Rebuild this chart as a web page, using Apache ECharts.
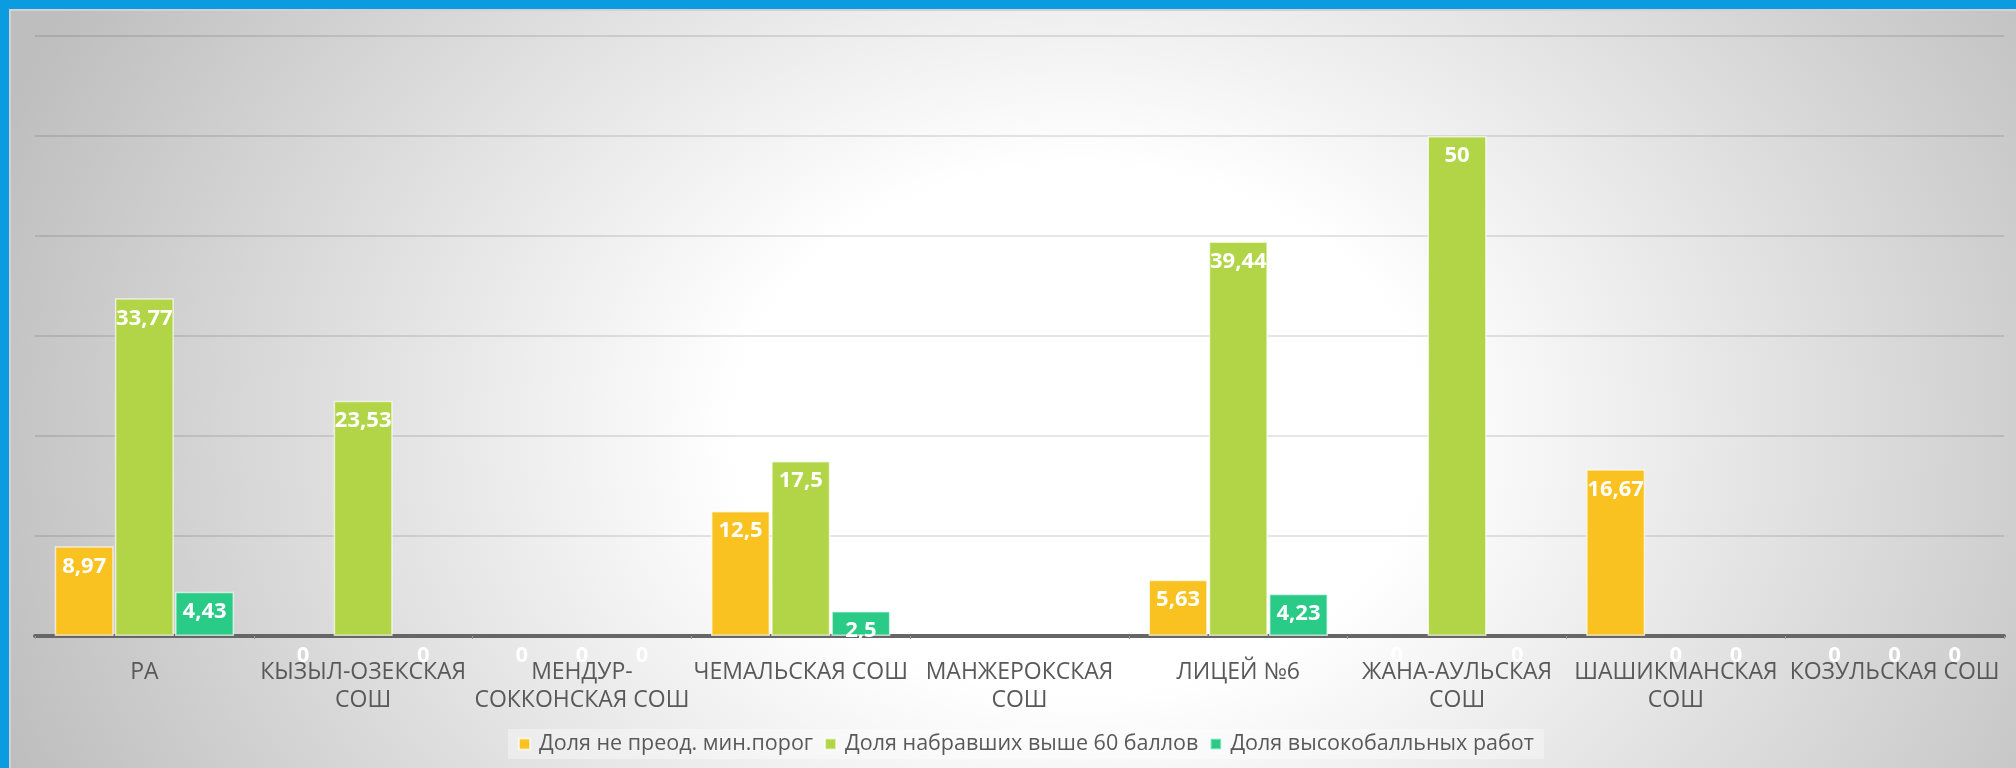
<!DOCTYPE html>
<html>
<head>
<meta charset="utf-8">
<script src="https://cdn.jsdelivr.net/npm/echarts@6/dist/echarts.min.js"></script>
<style>
  html, body { margin: 0; padding: 0; }
  #chart {
    width: 2016px; height: 768px;
    background: radial-gradient(ellipse 1150px 880px at 1080px 430px, #ffffff 0%, #ffffff 30%, #bebebe 100%);
  }
</style>
</head>
<body>
<div id="chart"></div>
<script>
const categories = [
  'РА',
  'КЫЗЫЛ-ОЗЕКСКАЯ\nСОШ',
  'МЕНДУР-\nСОККОНСКАЯ СОШ',
  'ЧЕМАЛЬСКАЯ СОШ',
  'МАНЖЕРОКСКАЯ\nСОШ',
  'ЛИЦЕЙ №6',
  'ЖАНА-АУЛЬСКАЯ\nСОШ',
  'ШАШИКМАНСКАЯ\nСОШ',
  'КОЗУЛЬСКАЯ СОШ'
];
const seriesNames = [
  'Доля не преод. мин.порог',
  'Доля набравших выше 60 баллов',
  'Доля высокобалльных работ'
];
const belowMin = [8.97, 0, 0, 12.5, null, 5.63, 0, 16.67, 0];
const above60 = [33.77, 23.53, 0, 17.5, null, 39.44, 50, 0, 0];
const highScore = [4.43, 0, 0, 2.5, null, 4.23, 0, 0, 0];
const yTicks = { min: 0, max: 60, interval: 10 };

const colors = ['#FAC220', '#B1D547', '#29CB86'];
const FONT = "'Open Sans', 'Noto Sans', sans-serif";

const chart = echarts.init(document.getElementById('chart'));

function mk(name, data, color) {
  return {
    name: name,
    type: 'bar',
    data: data.map(v => (v === 0 ? { value: 0, itemStyle: { borderWidth: 0 } } : v)),
    barWidth: 59,
    barGap: '2%',
    itemStyle: { color: color, borderColor: 'rgba(255,255,255,0.65)', borderWidth: 1.5 },
    label: {
      show: true,
      position: 'insideTop',
      distance: 9,
      color: '#ffffff',
      fontFamily: FONT,
      fontWeight: 'bold',
      fontSize: 22,
      lineHeight: 22,
      formatter: p => (p.value == null ? '' : String(p.value).replace('.', ','))
    }
  };
}

chart.setOption({
  backgroundColor: 'transparent',
  animation: false,
  graphic: [
    { type: 'rect', z: 100, shape: { x: 9, y: 9, width: 2007, height: 2 }, style: { fill: '#d2d2d2' } },
    { type: 'rect', z: 100, shape: { x: 9, y: 9, width: 2, height: 759 }, style: { fill: '#d2d2d2' } },
    { type: 'rect', z: 101, shape: { x: 0, y: 0, width: 2016, height: 9 }, style: { fill: '#0A9BE0' } },
    { type: 'rect', z: 101, shape: { x: 0, y: 0, width: 9, height: 768 }, style: { fill: '#0A9BE0' } }
  ],
  grid: { left: 35, right: 12, top: 36, bottom: 132 },
  legend: {
    data: seriesNames,
    left: 508,
    top: 729,
    backgroundColor: 'rgba(255,255,255,0.35)',
    padding: [4, 10],
    itemWidth: 11,
    itemHeight: 11,
    itemGap: 11,
    icon: 'rect',
    textStyle: { color: '#595959', fontFamily: FONT, fontSize: 21.5, padding: [0, 0, 0, 4] }
  },
  xAxis: {
    type: 'category',
    data: categories,
    axisLine: { lineStyle: { color: '#666666', width: 4 } },
    axisTick: { show: true, length: 3, lineStyle: { color: '#9a9a9a', width: 1 } },
    axisLabel: {
      interval: 0,
      margin: 22,
      color: '#595959',
      fontFamily: FONT,
      fontSize: 23,
      lineHeight: 28
    }
  },
  yAxis: {
    type: 'value',
    min: yTicks.min,
    max: yTicks.max,
    interval: yTicks.interval,
    axisLabel: { show: false },
    axisLine: { show: false },
    axisTick: { show: false },
    splitLine: { lineStyle: { color: 'rgba(0,0,0,0.1)', width: 2 } }
  },
  series: [
    mk(seriesNames[0], belowMin, colors[0]),
    mk(seriesNames[1], above60, colors[1]),
    mk(seriesNames[2], highScore, colors[2])
  ]
});
</script>
</body>
</html>
